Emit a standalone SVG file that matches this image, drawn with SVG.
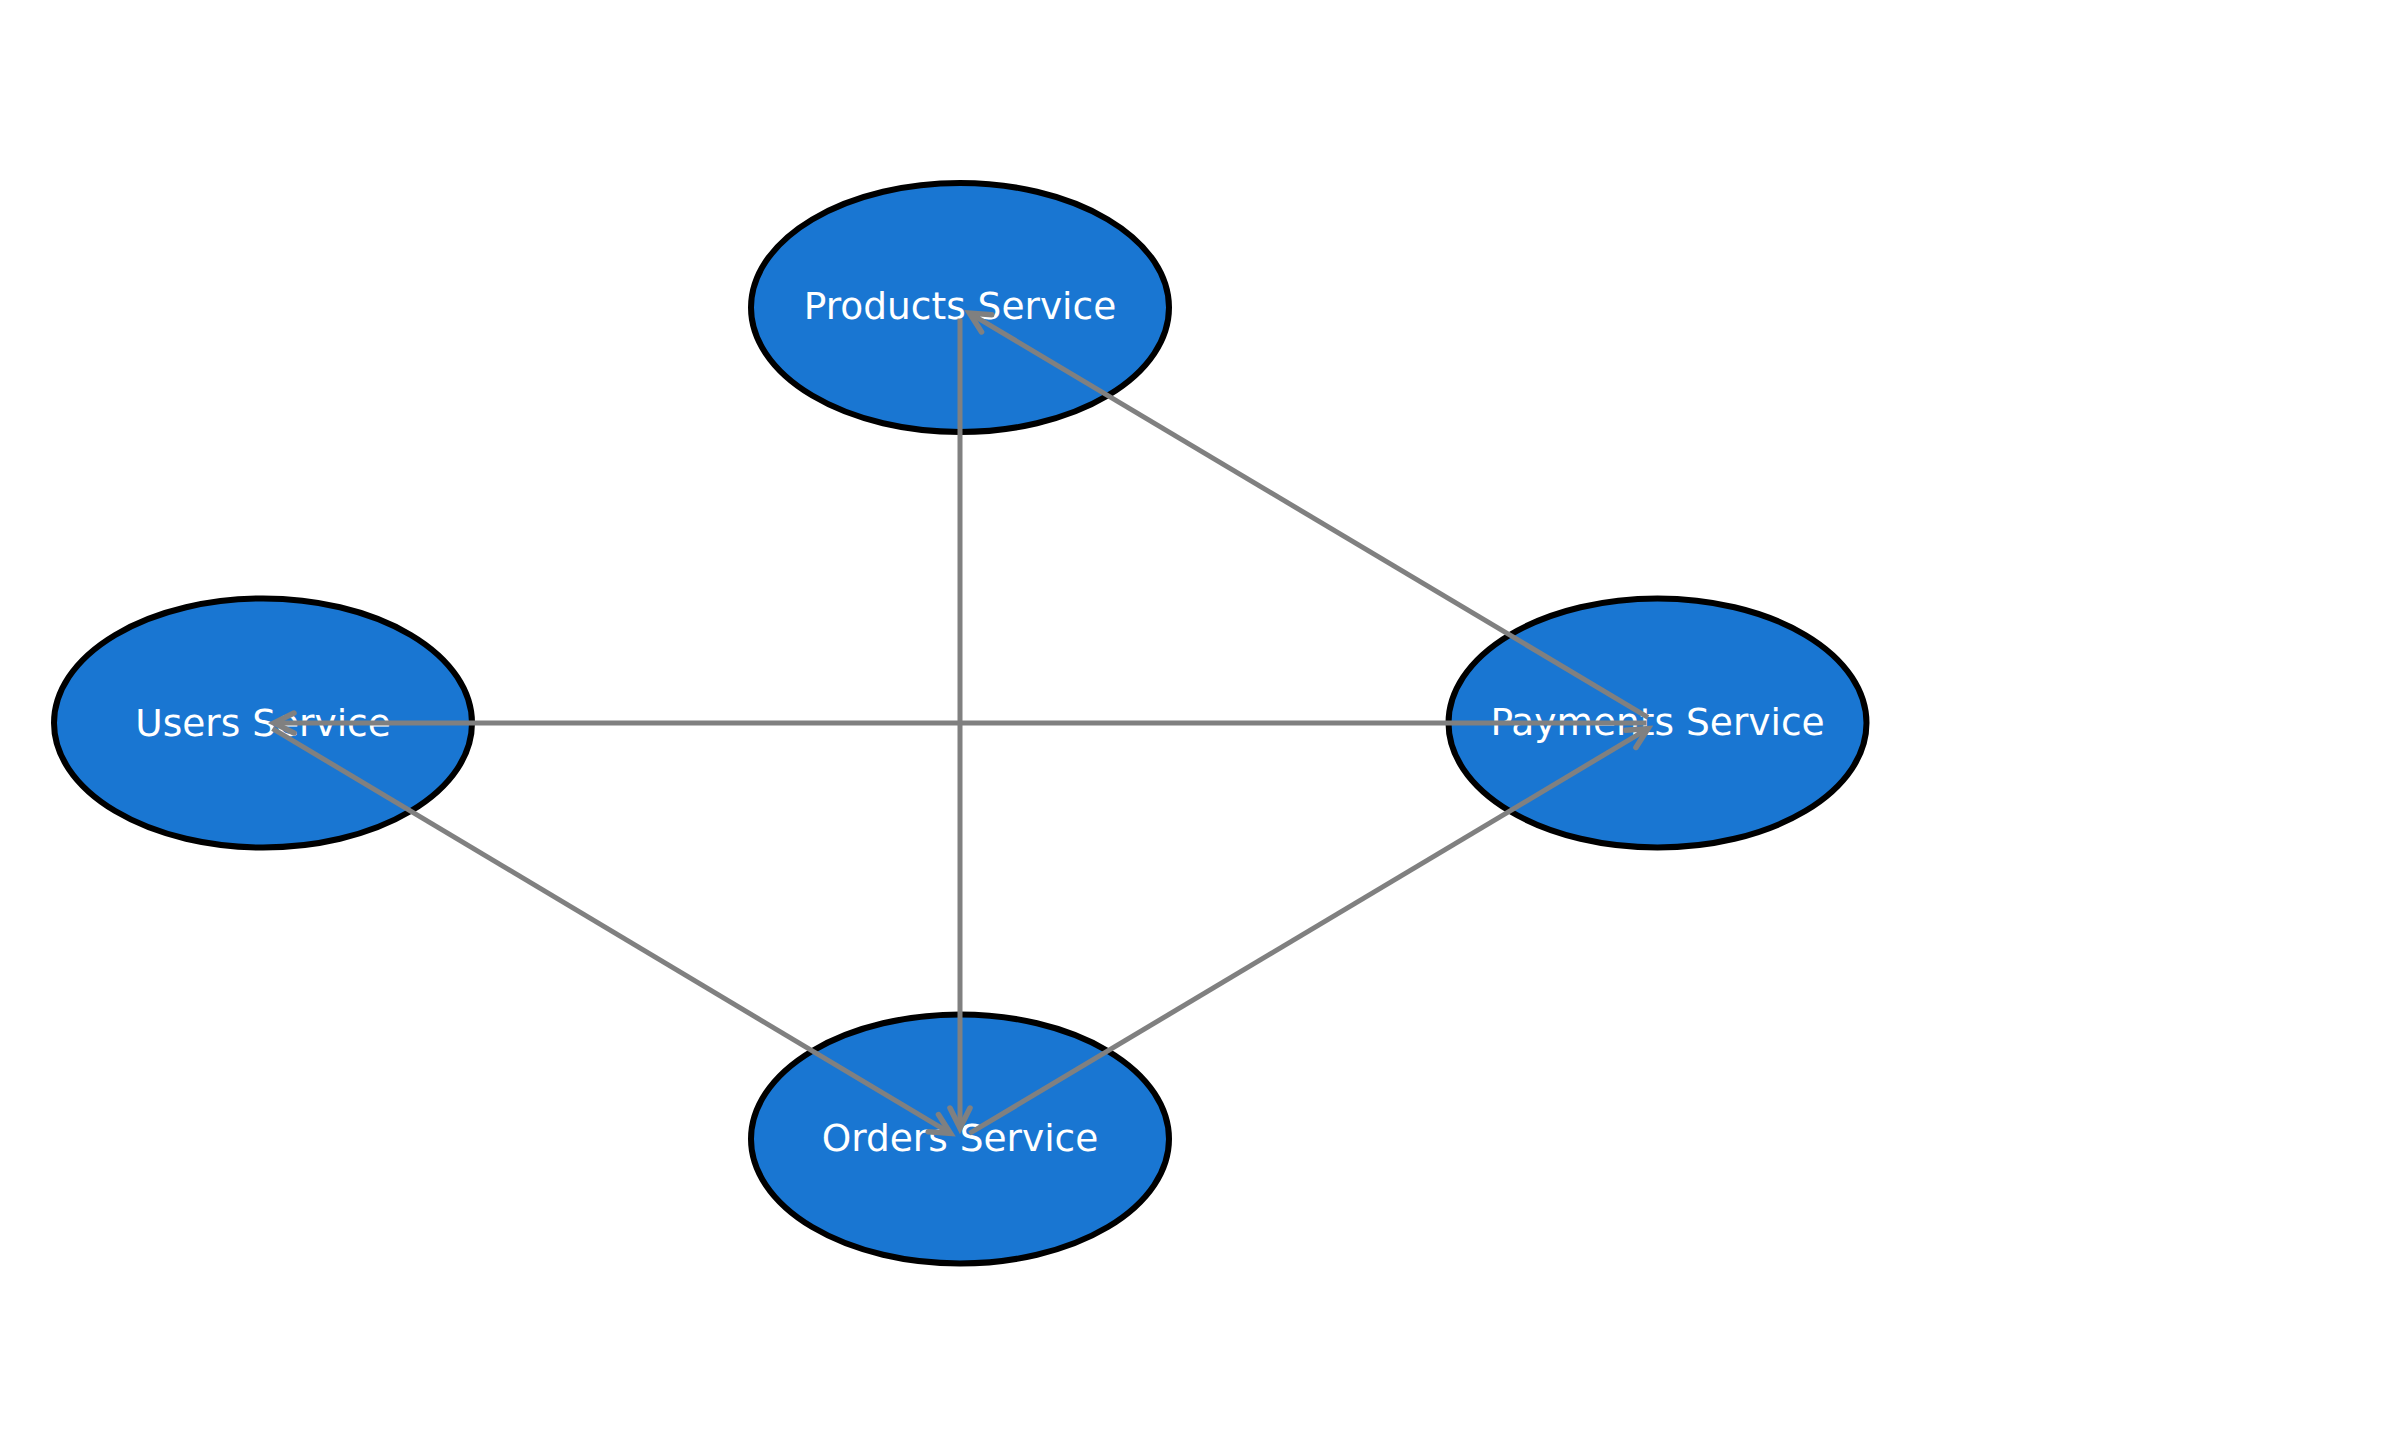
<svg xmlns="http://www.w3.org/2000/svg" width="2385" height="1446" viewBox="0 0 2385 1446">
<style>
.node ellipse{fill:#1976D2;stroke:#000;stroke-width:6}
.node text{fill:#fff;font-family:"DejaVu Sans",sans-serif;font-size:37.5px;text-anchor:middle;dominant-baseline:central}
.edge{stroke:#808080;stroke-width:5;fill:none;marker-end:url(#arr)}
</style>
<defs>
<marker id="arr" markerUnits="userSpaceOnUse" viewBox="-30 -20 40 40" markerWidth="40" markerHeight="40" refX="0" refY="0" orient="auto" overflow="visible">
<path d="M-20,-10 L0,0 L-20,10" fill="none" stroke="#808080" stroke-width="5.5" stroke-linecap="round" stroke-linejoin="miter"/>
</marker>
</defs>
<rect width="2385" height="1446" fill="#fff"/>
<g id="users"><g class="node"><ellipse cx="263" cy="723" rx="209" ry="124.5"/><text x="263" y="723">Users Service</text></g></g>
<g id="products"><g class="node"><ellipse cx="960" cy="307.5" rx="209" ry="124.5"/><text x="960" y="306">Products Service</text></g></g>
<g id="payments"><g class="node"><ellipse cx="1657.5" cy="723" rx="209" ry="124.5"/><text x="1657.5" y="722">Payments Service</text></g></g>
<g id="orders"><g class="node"><ellipse cx="960" cy="1139" rx="209" ry="124.5"/><text x="960" y="1138">Orders Service</text></g></g>
<g id="connectors">
<line class="edge" x1="1648" y1="717.4" x2="969.5" y2="313.1"/>
<line class="edge" x1="960" y1="318.5" x2="960" y2="1128"/>
<line class="edge" x1="1646.5" y1="723" x2="274" y2="723"/>
<line class="edge" x1="272.5" y1="728.6" x2="950.5" y2="1133.4"/>
<line class="edge" x1="969.5" y1="1133.4" x2="1648" y2="728.6"/>
</g>
</svg>
